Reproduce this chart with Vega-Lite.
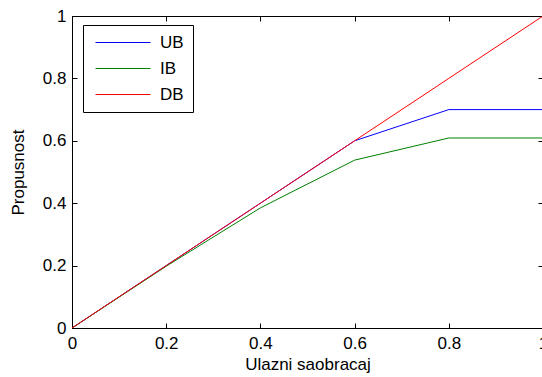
{
  "$schema": "https://vega.github.io/schema/vega-lite/v6.json",
  "width": 471,
  "height": 312,
  "autosize": {"type": "none"},
  "padding": {"left": 72, "top": 16, "right": 0, "bottom": 49},
  "background": "white",
  "config": {
    "view": {"stroke": "black", "strokeWidth": 1},
    "font": "Liberation Sans",
    "axis": {
      "domainColor": "black",
      "tickColor": "black",
      "labelColor": "black",
      "titleColor": "black",
      "labelFont": "Liberation Sans",
      "titleFont": "Liberation Sans",
      "labelFontSize": 17,
      "titleFontSize": 17,
      "titleFontWeight": "normal",
      "grid": false,
      "tickSize": -5
    }
  },
  "data": {
    "values": [
      {"x": 0, "y": 0, "s": "UB"},
      {"x": 0.2, "y": 0.2, "s": "UB"},
      {"x": 0.4, "y": 0.4, "s": "UB"},
      {"x": 0.6, "y": 0.6, "s": "UB"},
      {"x": 0.8, "y": 0.7, "s": "UB"},
      {"x": 1.0, "y": 0.7, "s": "UB"},
      {"x": 0, "y": 0, "s": "IB"},
      {"x": 0.2, "y": 0.198, "s": "IB"},
      {"x": 0.4, "y": 0.385, "s": "IB"},
      {"x": 0.6, "y": 0.538, "s": "IB"},
      {"x": 0.8, "y": 0.609, "s": "IB"},
      {"x": 1.0, "y": 0.609, "s": "IB"},
      {"x": 0, "y": 0, "s": "DB"},
      {"x": 0.2, "y": 0.2, "s": "DB"},
      {"x": 0.4, "y": 0.4, "s": "DB"},
      {"x": 0.6, "y": 0.6, "s": "DB"},
      {"x": 0.8, "y": 0.8, "s": "DB"},
      {"x": 1.0, "y": 1.0, "s": "DB"}
    ]
  },
  "layer": [
    {
      "mark": {"type": "line", "strokeWidth": 1, "clip": true},
      "encoding": {
        "x": {
          "field": "x", "type": "quantitative",
          "scale": {"domain": [0, 1], "nice": false, "zero": false},
          "axis": {"title": "Ulazni saobracaj", "values": [0, 0.2, 0.4, 0.6, 0.8, 1], "format": "~g", "labelPadding": 12, "titlePadding": 5, "labelFlush": false}
        },
        "y": {
          "field": "y", "type": "quantitative",
          "scale": {"domain": [0, 1], "nice": false, "zero": false},
          "axis": {"title": "Propusnost", "values": [0, 0.2, 0.4, 0.6, 0.8, 1], "format": "~g", "labelPadding": 11, "titlePadding": 15, "labelFlush": false}
        },
        "color": {
          "field": "s", "type": "nominal",
          "scale": {"domain": ["UB", "IB", "DB"], "range": ["#0000FF", "#008000", "#FF0000"]},
          "legend": {
            "title": null,
            "orient": "none",
            "legendX": 11,
            "legendY": 9,
            "symbolType": "M-1,0H10",
            "symbolSize": 100,
            "symbolStrokeWidth": 1,
            "symbolFillColor": "transparent",
            "strokeColor": "black",
            "fillColor": "white",
            "padding": 9,
            "rowPadding": 8,
            "labelFontSize": 17,
            "labelColor": "black",
            "labelFont": "Liberation Sans",
            "labelOffset": 51
          }
        }
      }
    },
    {
      "mark": {"type": "line", "opacity": 0},
      "encoding": {
        "x": {"field": "x", "type": "quantitative", "axis": {"orient": "top", "labels": false, "title": null, "values": [0, 0.2, 0.4, 0.6, 0.8, 1]}},
        "y": {"field": "y", "type": "quantitative", "axis": {"orient": "right", "labels": false, "title": null, "values": [0, 0.2, 0.4, 0.6, 0.8, 1]}},
        "detail": {"field": "s"}
      }
    }
  ],
  "resolve": {"axis": {"x": "independent", "y": "independent"}}
}
